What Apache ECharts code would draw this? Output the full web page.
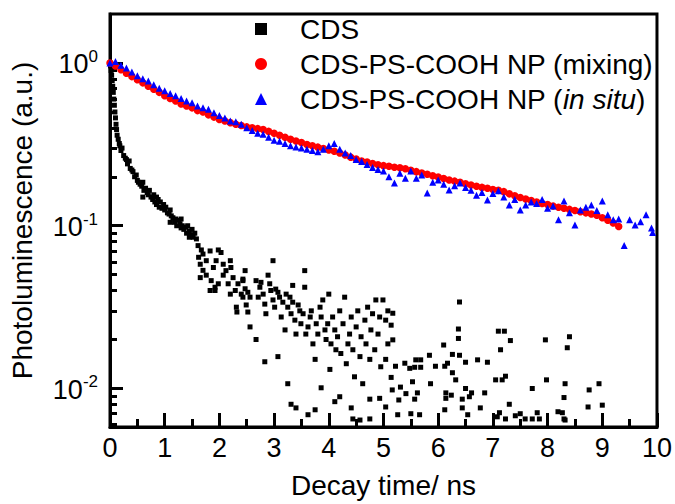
<!DOCTYPE html>
<html><head><meta charset="utf-8">
<script src="https://cdn.jsdelivr.net/npm/echarts@6/dist/echarts.min.js"></script>
<style>html,body{margin:0;padding:0;background:#fff}#c{width:675px;height:504px}</style>
</head><body><div id="c"></div>
<script>
const FONT = 'Liberation Sans, Arial, sans-serif';
const seriesNames = ['CDS', 'CDS-PS-COOH NP (mixing)', 'CDS-PS-COOH NP (in situ)'];
const xRange = [0, 10];
const yRange = [0.0058, 2.0];
const yMajorTicks = [0.01, 0.1, 1];
const yMinorTicks = [0.006,0.007,0.008,0.009,0.02,0.03,0.04,0.05,0.06,0.07,0.08,0.09,0.2,0.3,0.4,0.5,0.6,0.7,0.8,0.9];

// CDS (black squares) [time ns, PL]
const cdsData = [
[0,1.0],[0.01,0.96],[0.02,0.9],[0.03,0.84],[0.04,0.78],[0.05,0.72],[0.06,0.66],[0.07,0.6],[0.08,0.55],[0.09,0.5],[0.1,0.46],[0.11,0.42],[0.12,0.39],[0.13,0.36],[0.15,0.34],[0.17,0.32],
[0.18,0.31],[0.2,0.29],[0.22,0.3],[0.25,0.27],[0.28,0.26],[0.3,0.255],[0.32,0.24],[0.35,0.25],[0.37,0.225],[0.4,0.22],[0.42,0.215],[0.45,0.2],[0.48,0.205],[0.5,0.19],[0.52,0.185],[0.55,0.18],[0.58,0.175],[0.6,0.185],[0.62,0.165],[0.65,0.17],[0.68,0.16],[0.7,0.155],[0.72,0.165],[0.75,0.15],[0.78,0.145],[0.8,0.155],[0.82,0.14],[0.85,0.135],[0.88,0.145],[0.9,0.13],[0.92,0.14],[0.95,0.128],[0.98,0.135],[1.0,0.125],[1.02,0.13],[1.05,0.12],[1.08,0.118],[1.1,0.125],[1.12,0.115],[1.15,0.112],[1.18,0.105],[1.2,0.11],[1.22,0.1],[1.25,0.108],[1.28,0.103],[1.3,0.097],[1.32,0.1],[1.35,0.095],[1.38,0.098],[1.4,0.09],[1.42,0.1],[1.45,0.093],[1.48,0.088],[1.5,0.095],[1.52,0.085],[1.55,0.09],[1.58,0.083],
[0.6,0.15],[0.85,0.15],[1.1,0.105],[1.3,0.11],[1.45,0.085],
[1.61,0.0755],[1.67,0.071],[1.7,0.067],[1.83,0.07],[1.98,0.071],[2.03,0.0685],[1.62,0.064],[1.65,0.058],[1.76,0.061],[1.89,0.0554],[1.94,0.061],[2.07,0.058],[2.12,0.053],[2.2,0.061],[2.21,0.0554],[1.7,0.0532],[1.76,0.0497],[1.85,0.046],[1.92,0.0419],[1.98,0.044],[2.07,0.0497],[2.16,0.044],[2.25,0.048],[2.29,0.04],[2.34,0.044],[2.4,0.038],[2.2,0.038],[2.31,0.0316],[2.32,0.0295],[1.65,0.048],[1.83,0.04],[1.92,0.04],[2.43,0.046],[2.43,0.0364],
[2.47,0.053],[2.43,0.047],[2.47,0.041],[2.52,0.039],[2.56,0.0364],[2.49,0.0326],[2.52,0.0295],[2.56,0.0239],[2.67,0.046],[2.71,0.0364],[2.74,0.0419],[2.76,0.0449],[2.8,0.038],[2.83,0.033],[2.85,0.0288],[2.89,0.0497],[2.92,0.044],[2.94,0.04],[2.98,0.061],[2.98,0.035],[3.01,0.0316],[3.03,0.0408],[3.07,0.039],[3.1,0.0364],[3.13,0.0275],[3.16,0.0339],[3.2,0.0229],[3.22,0.038],[3.25,0.0316],[3.29,0.0364],[3.31,0.0288],[3.34,0.0339],[3.34,0.043],[3.38,0.0263],[3.4,0.0216],[3.44,0.0326],[3.47,0.03],[3.49,0.025],[3.53,0.0288],[3.56,0.053],[3.56,0.0419],[3.58,0.0216],[3.62,0.0239],[3.66,0.0275],[3.68,0.03],[3.71,0.0188],[3.75,0.0151],[3.77,0.025],[3.8,0.0216],[3.84,0.0316],[3.86,0.0275],[3.89,0.035],[3.93,0.0229],[3.95,0.02],[3.98,0.025],[4.0,0.038],[4.02,0.0131],[4.04,0.0188],[4.07,0.0275],[4.11,0.0229],[4.13,0.0173],[4.16,0.0208],[4.2,0.03],[4.22,0.0164],[4.26,0.025],[4.29,0.0364],[4.32,0.0142],[4.35,0.0188],[4.38,0.0216],[4.41,0.0275],[4.44,0.0173],[4.47,0.0118],[4.5,0.0239],[4.53,0.03],[4.57,0.0157],[4.59,0.0208],[4.62,0.0107],[4.66,0.0263],[4.68,0.0188],[4.71,0.0316],[4.75,0.0151],[4.77,0.0229],[4.8,0.0288],[4.84,0.0173],[4.86,0.035],[4.9,0.0216],[4.93,0.0275],[4.95,0.0136],
[3.25,0.0107],[3.86,0.0101],[4.2,0.0089],[3.31,0.008],[3.4,0.0076],[4.11,0.0083],[4.41,0.0076],[4.75,0.0086],[4.93,0.0087],[3.62,0.0069],[3.75,0.0074],[4.44,0.0065],[4.57,0.0064],[4.75,0.0065],[2.83,0.0146],[3.07,0.0157],[2.67,0.02],
[4.99,0.035],[5.08,0.03],[5.17,0.029],[5.04,0.0263],[5.14,0.0245],[5.17,0.0199],[5.08,0.0188],[5.04,0.0151],[5.22,0.0137],[5.39,0.0143],[5.48,0.0133],[5.59,0.015],[5.68,0.015],[5.84,0.016],[5.57,0.0135],[5.68,0.0135],[5.95,0.0137],[6.12,0.0137],[6.17,0.0143],[6.26,0.0162],[6.39,0.016],[6.5,0.0145],[6.72,0.015],[6.9,0.0145],[6.39,0.034],[6.37,0.0232],[6.37,0.0203],[6.1,0.0185],[6.26,0.0125],[6.32,0.0113],[5.86,0.0107],[5.53,0.011],[5.14,0.0117],[5.16,0.0098],[5.31,0.0102],[5.41,0.0093],[5.62,0.0094],[5.28,0.0085],[5.57,0.0086],[5.04,0.0077],[6.14,0.0094],[6.14,0.0087],[6.24,0.0091],[6.44,0.0086],[6.5,0.01],[6.57,0.0089],[6.61,0.0094],[6.85,0.0094],[6.77,0.0076],[6.44,0.0076],[6.12,0.0074],[5.26,0.0069],[5.5,0.007],[5.66,0.0069],[6.54,0.0069],[7.1,0.0225],[7.21,0.0225],[7.32,0.0197],[7.14,0.0173],[7.05,0.0113],[7.17,0.0113],[7.23,0.0119],[7.3,0.008],[7.12,0.0071],[7.23,0.0065],[7.08,0.0067],[7.41,0.0068],[7.5,0.007],
[7.96,0.0199],[8.4,0.0208],[8.36,0.0178],[7.98,0.0113],[8.32,0.0107],[8.94,0.0107],[8.76,0.0098],[7.72,0.01],[8.3,0.0088],[8.74,0.0077],[9.0,0.0079],[7.59,0.0065],[7.72,0.0065],[7.81,0.0071],[7.85,0.0065],[8.19,0.0072],[8.27,0.0071],[8.3,0.0065],[8.32,0.0064]
];

// CDS-PS-COOH NP (mixing), red circles
const mixingData = [
[0,1.0],[0.1,0.96],[0.2,0.91],[0.3,0.865],[0.4,0.825],[0.5,0.79],[0.6,0.755],[0.7,0.72],[0.8,0.69],[0.9,0.66],
[1.0,0.63],[1.1,0.605],[1.2,0.585],[1.3,0.56],[1.4,0.545],[1.5,0.53],[1.6,0.51],[1.7,0.5],[1.8,0.48],[1.9,0.465],
[2.0,0.45],[2.1,0.44],[2.2,0.43],[2.3,0.42],[2.4,0.413],[2.5,0.405],[2.6,0.4],[2.7,0.395],[2.8,0.39],[2.9,0.38],
[3.0,0.37],[3.1,0.36],[3.2,0.35],[3.3,0.34],[3.4,0.332],[3.5,0.325],[3.6,0.316],[3.7,0.31],[3.8,0.304],[3.9,0.298],
[4.0,0.292],[4.1,0.287],[4.2,0.28],[4.3,0.272],[4.4,0.264],[4.5,0.257],[4.6,0.25],[4.7,0.246],[4.8,0.241],[4.9,0.237],
[5.0,0.234],[5.1,0.232],[5.2,0.229],[5.3,0.227],[5.4,0.224],[5.5,0.219],[5.6,0.215],[5.7,0.211],[5.8,0.207],[5.9,0.203],
[6.0,0.199],[6.1,0.195],[6.2,0.191],[6.3,0.188],[6.4,0.185],[6.5,0.181],[6.6,0.178],[6.7,0.175],[6.8,0.172],[6.9,0.17],
[7.0,0.167],[7.1,0.165],[7.2,0.162],[7.3,0.157],[7.4,0.153],[7.5,0.149],[7.6,0.146],[7.7,0.143],[7.8,0.14],[7.9,0.137],
[8.0,0.135],[8.1,0.132],[8.2,0.13],[8.3,0.128],[8.4,0.126],[8.5,0.124],[8.6,0.122],[8.7,0.12],[8.8,0.118],[8.9,0.116],
[9.0,0.112],[9.1,0.108],[9.2,0.104],[9.3,0.099]
];

// CDS-PS-COOH NP (in situ), blue triangles
const inSituData = [
[0,1.0],[0.1,1.02],[0.2,0.97],[0.3,0.93],[0.4,0.88],[0.5,0.835],[0.6,0.8],[0.7,0.775],[0.8,0.735],[0.9,0.7],
[1.0,0.675],[1.1,0.65],[1.2,0.63],[1.3,0.605],[1.4,0.585],[1.5,0.57],[1.6,0.545],[1.7,0.53],[1.8,0.52],[1.9,0.495],
[2.0,0.475],[2.1,0.46],[2.2,0.44],[2.3,0.435],[2.4,0.42],[2.5,0.4],[2.6,0.385],[2.7,0.37],[2.8,0.365],[2.9,0.35],
[3.0,0.335],[3.1,0.33],[3.2,0.32],[3.3,0.31],[3.4,0.305],[3.5,0.3],[3.6,0.295],[3.7,0.29],[3.8,0.285],[3.9,0.295],
[4.0,0.31],[4.1,0.32],[4.2,0.295],[4.3,0.28],[4.4,0.27],[4.5,0.255],[4.6,0.248],[4.7,0.238],[4.8,0.228],[4.9,0.222],
[5.0,0.217],[5.1,0.2],[5.2,0.183],[5.3,0.21],[5.4,0.196],[5.5,0.217],[5.6,0.196],[5.7,0.205],[5.8,0.159],[5.9,0.185],
[6.0,0.191],[6.1,0.18],[6.2,0.166],[6.3,0.176],[6.4,0.183],[6.5,0.172],[6.6,0.165],[6.7,0.154],[6.8,0.16],[6.9,0.144],
[7.0,0.158],[7.1,0.164],[7.2,0.15],[7.3,0.134],[7.4,0.145],[7.5,0.125],[7.6,0.134],[7.7,0.14],[7.8,0.137],[7.9,0.145],
[8.0,0.128],[8.1,0.132],[8.2,0.109],[8.3,0.142],[8.4,0.12],[8.5,0.101],[8.6,0.125],[8.7,0.13],[8.8,0.134],[8.9,0.124],
[9.0,0.142],[9.1,0.117],[9.2,0.109],[9.3,0.11],[9.4,0.0755],[9.5,0.109],[9.6,0.101],[9.7,0.106],[9.8,0.117],[9.9,0.097],[9.92,0.091]
];

const chart = echarts.init(document.getElementById('c'), null, {renderer: 'svg'});
const black = '#000';
const option = {
  animation: false,
  backgroundColor: '#fff',
  textStyle: {fontFamily: FONT},
  grid: {left: 110, right: 15, top: 14, bottom: 74, show: true, borderColor: black, borderWidth: 3, backgroundColor: 'transparent'},
  legend: {
    orient: 'vertical', left: 250, top: 9, itemGap: 5, itemWidth: 12, itemHeight: 12,
    data: [
      {name: seriesNames[0], icon: 'rect'},
      {name: seriesNames[1], icon: 'circle'},
      {name: seriesNames[2], icon: 'triangle'}
    ],
    formatter: function (n) {
      if (n === seriesNames[2]) return 'CDS-PS-COOH NP ({i|in situ})';
      return n;
    },
    textStyle: {fontSize: 28, color: black, fontFamily: FONT, lineHeight: 30, padding: [0, 0, 0, 28],
      rich: {i: {fontSize: 28, fontStyle: 'italic', color: black, fontFamily: FONT, lineHeight: 30}}}
  },
  xAxis: {
    type: 'value', min: xRange[0], max: xRange[1], interval: 1,
    axisLine: {lineStyle: {color: black, width: 3}},
    axisTick: {inside: true, length: 14, lineStyle: {color: black, width: 3}},
    minorTick: {show: true, splitNumber: 2, length: 8, lineStyle: {color: black, width: 3}},
    splitLine: {show: false},
    axisLabel: {fontSize: 27, color: black, margin: 7, fontFamily: FONT},
    name: 'Decay time/ ns', nameLocation: 'middle', nameGap: 44,
    nameTextStyle: {fontSize: 28, color: black, fontFamily: FONT}
  },
  yAxis: [{
    type: 'log', logBase: 10, min: yRange[0], max: yRange[1],
    axisLine: {lineStyle: {color: black, width: 3}},
    axisTick: {inside: true, length: 13, lineStyle: {color: black, width: 3}, customValues: yMajorTicks},
    splitLine: {show: false},
    axisLabel: {
      customValues: yMajorTicks, margin: 12, color: black,
      formatter: function (v) { return '{b|10}{s|' + Math.round(Math.log10(v)) + '}'; },
      rich: {
        b: {fontSize: 27, fontFamily: FONT, color: black, lineHeight: 30, verticalAlign: 'bottom'},
        s: {fontSize: 17, fontFamily: FONT, color: black, lineHeight: 17, verticalAlign: 'top'}
      }
    },
    name: 'Photoluminescence (a.u.)', nameLocation: 'middle', nameGap: 74,
    nameTextStyle: {fontSize: 28, color: black, fontFamily: FONT}
  }, {
    type: 'log', logBase: 10, min: yRange[0], max: yRange[1], position: 'left', offset: 0,
    axisLine: {show: false},
    axisTick: {inside: true, length: 7, lineStyle: {color: black, width: 3}, customValues: yMinorTicks},
    axisLabel: {show: false},
    splitLine: {show: false}
  }],
  series: [
    {name: seriesNames[0], type: 'scatter', data: cdsData, symbol: 'rect', symbolSize: 5, itemStyle: {color: black, opacity: 1}},
    {name: seriesNames[1], type: 'scatter', data: mixingData, symbol: 'circle', symbolSize: 7.5, itemStyle: {color: '#ff0000', opacity: 1}},
    {name: seriesNames[2], type: 'scatter', data: inSituData, symbol: 'triangle', symbolSize: 7, itemStyle: {color: '#0000ff', opacity: 1}}
  ]
};
chart.setOption(option);
</script>
</body></html>
